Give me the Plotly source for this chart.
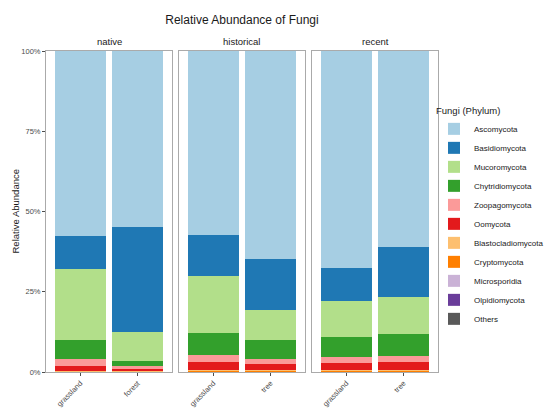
import plotly.graph_objects as go

groups = ["native", "historical", "recent"]
habitats = {"native": ["grassland", "forest"],
            "historical": ["grassland", "tree"],
            "recent": ["grassland", "tree"]}

phyla = ["Ascomycota", "Basidiomycota", "Mucoromycota", "Chytridiomycota",
         "Zoopagomycota", "Oomycota", "Blastocladiomycota", "Cryptomycota",
         "Microsporidia", "Olpidiomycota", "Others"]

colors = ["#A6CEE3", "#1F78B4", "#B2DF8A", "#33A02C", "#FB9A99", "#E31A1C",
          "#FDBF6F", "#FF7F00", "#CAB2D6", "#6A3D9A", "#595959"]

# percent values, order of habitats per group
native_vals = {
    "Ascomycota": [57.6, 54.7], "Basidiomycota": [10.4, 32.7],
    "Mucoromycota": [22.0, 9.1], "Chytridiomycota": [6.0, 1.63],
    "Zoopagomycota": [2.0, 0.87], "Oomycota": [1.6, 0.6],
    "Blastocladiomycota": [0.1, 0.1], "Cryptomycota": [0.3, 0.3],
    "Microsporidia": [0.0, 0.0], "Olpidiomycota": [0.0, 0.0], "Others": [0.0, 0.0],
}
historical_vals = {
    "Ascomycota": [57.3, 64.9], "Basidiomycota": [12.8, 15.8],
    "Mucoromycota": [17.7, 9.3], "Chytridiomycota": [6.9, 6.0],
    "Zoopagomycota": [2.1, 1.6], "Oomycota": [2.6, 1.8],
    "Blastocladiomycota": [0.2, 0.2], "Cryptomycota": [0.4, 0.4],
    "Microsporidia": [0.0, 0.0], "Olpidiomycota": [0.0, 0.0], "Others": [0.0, 0.0],
}
recent_vals = {
    "Ascomycota": [67.5, 61.2], "Basidiomycota": [10.4, 15.3],
    "Mucoromycota": [11.3, 11.7], "Chytridiomycota": [6.2, 6.8],
    "Zoopagomycota": [1.7, 1.9], "Oomycota": [2.3, 2.5],
    "Blastocladiomycota": [0.2, 0.2], "Cryptomycota": [0.4, 0.4],
    "Microsporidia": [0.0, 0.0], "Olpidiomycota": [0.0, 0.0], "Others": [0.0, 0.0],
}
group_vals = {"native": native_vals, "historical": historical_vals, "recent": recent_vals}

y_ticks = [0, 25, 50, 75, 100]
y_ticklabels = ["0%", "25%", "50%", "75%", "100%"]

W, H = 549, 410
ml, mr, mt, mb = 46, 111, 51, 38
pw = W - ml - mr
panels_px = [(46, 172), (179, 305), (312, 438)]
domains = [((a - ml) / pw, (b - ml) / pw) for a, b in panels_px]

fig = go.Figure()
# add in reverse so Ascomycota stacks on top
for gi, g in enumerate(groups):
    for pi in range(len(phyla) - 1, -1, -1):
        p = phyla[pi]
        fig.add_trace(go.Bar(
            x=habitats[g], y=group_vals[g][p], name=p,
            marker=dict(color=colors[pi], line=dict(width=0)),
            legendgroup=p, showlegend=(gi == 0),
            xaxis="x" if gi == 0 else f"x{gi+1}",
            yaxis="y" if gi == 0 else f"y{gi+1}",
        ))

axis_font = dict(family="Liberation Sans, Arial", size=7.5, color="#4d4d4d")
layout = dict(
    width=W, height=H, barmode="stack", bargap=0.1,
    plot_bgcolor="white", paper_bgcolor="white",
    margin=dict(l=ml, r=mr, t=mt, b=mb, autoexpand=False),
    font=dict(family="Liberation Sans, Arial", color="#1a1a1a"),
    title=dict(text="Relative Abundance of Fungi", x=(46 + 438) / 2 / W, xanchor="center",
               y=1 - 20 / H, yanchor="middle", font=dict(size=12, color="#1a1a1a")),
    legend=dict(xref="container", yref="container", x=434 / W, y=1 - 102 / H,
                xanchor="left", yanchor="top", traceorder="reversed",
                font=dict(size=8, color="#1a1a1a"), maxheight=400,
                title=dict(text="Fungi (Phylum)", font=dict(size=9.5, color="#1a1a1a")),
                bgcolor="rgba(0,0,0,0)"),
    showlegend=True,
)
for gi in range(3):
    xs = "xaxis" if gi == 0 else f"xaxis{gi+1}"
    ys = "yaxis" if gi == 0 else f"yaxis{gi+1}"
    yref = "y" if gi == 0 else f"y{gi+1}"
    xref = "x" if gi == 0 else f"x{gi+1}"
    layout[xs] = dict(domain=list(domains[gi]), anchor=yref, range=[-0.6, 1.6],
                      automargin=False,
                      showgrid=False, zeroline=False, showline=True, mirror=True,
                      linecolor="#aaaaaa", linewidth=1, ticks="outside", ticklen=3,
                      tickcolor="#4d4d4d", tickangle=-45, tickfont=axis_font)
    layout[ys] = dict(domain=[0, 1], anchor=xref, range=[0, 100], automargin=False,
                      showgrid=False, zeroline=False, showline=True, mirror=True,
                      linecolor="#aaaaaa", linewidth=1,
                      tickvals=y_ticks, ticktext=y_ticklabels,
                      ticks="outside" if gi == 0 else "", ticklen=3, tickcolor="#4d4d4d",
                      showticklabels=(gi == 0), tickfont=axis_font)
fig.update_layout(**layout)

# y-axis title
fig.add_annotation(text="Relative Abundance", xref="paper", yref="paper",
                   x=(15 - ml) / pw, y=0.5, xanchor="center", yanchor="middle",
                   textangle=-90, showarrow=False,
                   font=dict(size=9.5, color="#1a1a1a"))

for gi, g in enumerate(groups):
    fig.add_annotation(text=g, xref="paper", yref="paper",
                       x=(domains[gi][0] + domains[gi][1]) / 2, y=1,
                       xanchor="center", yanchor="bottom", yshift=2, showarrow=False,
                       font=dict(size=9.5, color="#1a1a1a"))

fig.write_html("out.html", config={"displayModeBar": False},
               post_script="document.body.style.margin='0';")
